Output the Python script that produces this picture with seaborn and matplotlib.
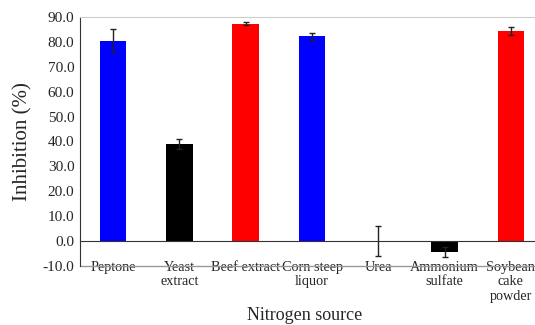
import numpy as np
import pandas as pd
import matplotlib
matplotlib.use("Agg")
import matplotlib.pyplot as plt
import seaborn as sns

# Datos
sources = ["Peptone", "Yeast\nextract", "Beef extract", "Corn steep\nliquor",
           "Urea", "Ammonium\nsulfate", "Soybean\ncake\npowder"]
inhibition = [80.5, 39.0, 87.3, 82.2, 0.0, -4.2, 84.3]
errors = [4.5, 2.0, 0.7, 1.5, 6.0, 2.0, 1.5]
bar_colors = ["#0000FF", "#000000", "#FF0000", "#0000FF", "#000000", "#000000", "#FF0000"]

df = pd.DataFrame({"source": sources, "inhibition": inhibition})

sns.set_style("white")
plt.rcParams["font.family"] = ["Liberation Serif", "DejaVu Serif"]

fig = plt.figure(figsize=(5.35, 3.25), dpi=100)
ax = fig.add_axes([80 / 535, 59 / 325, 464 / 535, 249 / 325])

sns.barplot(x="source", y="inhibition", data=df, hue="source", palette=bar_colors,
            saturation=1, width=0.4, legend=False, ax=ax, edgecolor="none")
ax.errorbar(range(len(sources)), inhibition, yerr=errors, fmt="none",
            ecolor="#222222", elinewidth=1, capsize=2, capthick=1)

ax.set_xlim(-0.5, len(sources) - 0.5)
ax.set_ylim(-10, 90)
ax.set_yticks(np.arange(-10, 91, 10))
ax.set_yticklabels([f"{v:.1f}" for v in np.arange(-10, 91, 10)], fontsize=11)
ax.set_yticks(np.arange(-5, 91, 10), minor=True)

# eje x en el cero con marcas entre categorias
ax.spines["bottom"].set_position(("data", 0))
ax.spines["bottom"].set_color("#333333")
ax.spines["left"].set_color("#333333")
ax.spines["top"].set_color("#cccccc")
ax.spines["right"].set_visible(False)
ax.axhline(-10, color="#999999", lw=1, clip_on=False)

ax.set_xticks(np.arange(len(sources)))
ax.set_xticklabels(sources, fontsize=10.3, linespacing=1.15)
ax.set_xticks(np.arange(0.5, len(sources) - 0.5, 1), minor=True)
ax.tick_params(axis="x", which="major", length=0, pad=14)
ax.tick_params(axis="x", which="minor", direction="in", length=4, color="#333333")
ax.tick_params(axis="y", which="both", direction="in", length=3, color="#333333", pad=4)

ax.set_xlabel("Nitrogen source", fontsize=13)
ax.set_ylabel("Inhibition (%)", fontsize=15)
ax.xaxis.set_label_coords(0.485, -0.165)
ax.yaxis.set_label_coords(-0.102, 0.5)

fig.savefig("out.png", dpi=100)
